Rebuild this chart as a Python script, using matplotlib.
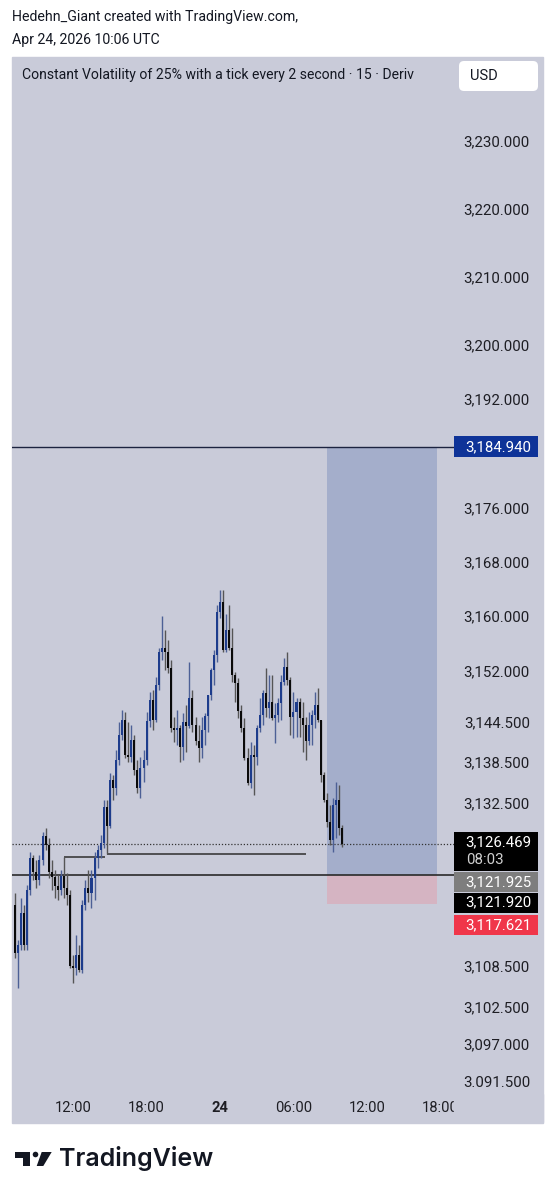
import matplotlib
matplotlib.use("Agg")
import matplotlib.pyplot as plt
from matplotlib.patches import Rectangle, FancyBboxPatch, Polygon, Circle
from matplotlib.transforms import blended_transform_factory
import numpy as np

plt.rcParams["font.family"] = ["Roboto", "DejaVu Sans"]

# 15 minute candles, 23 Apr 07:15 -> 24 Apr 10:00
opens = [3117.5, 3110.4, 3111.6, 3116.3, 3111.6, 3119.7, 3124.4, 3122.3, 3121.2, 3124.1,
         3127.6, 3126.3, 3122.3, 3121.6, 3120.3, 3119.7, 3121.7, 3120.0, 3118.9, 3108.5,
         3108.2, 3110.1, 3107.9, 3117.5, 3120.0, 3119.2, 3121.4, 3124.4, 3125.6, 3126.6,
         3131.9, 3129.1, 3135.9, 3134.7, 3138.8, 3142.5, 3144.7, 3139.6, 3139.3, 3141.8,
         3137.4, 3134.7, 3137.6, 3138.8, 3144.6, 3147.7, 3144.7, 3149.9, 3154.7, 3155.3,
         3154.7, 3152.4, 3143.6, 3143.2, 3143.5, 3140.7, 3144.4, 3143.8, 3148.0, 3144.0,
         3141.6, 3140.6, 3143.2, 3145.3, 3148.4, 3152.1, 3154.3, 3160.6, 3162.1, 3155.0,
         3158.0, 3155.3, 3151.3, 3150.2, 3146.0, 3143.5, 3139.1, 3135.4, 3139.6, 3139.3,
         3143.5, 3145.4, 3148.7, 3146.5, 3147.4, 3145.0, 3145.4, 3147.2, 3150.3, 3152.5,
         3150.6, 3145.2, 3145.9, 3147.4, 3145.0, 3144.0, 3141.6, 3144.0, 3145.4, 3146.9,
         3144.7, 3136.6, 3132.9, 3129.7, 3127.0, 3132.2, 3132.9, 3128.8]
highs = [3119.2, 3112.3, 3118.5, 3117.5, 3120.4, 3125.3, 3124.8, 3124.1, 3124.8, 3128.2,
         3128.8, 3127.3, 3124.1, 3122.6, 3121.9, 3122.6, 3124.6, 3122.2, 3119.7, 3110.1,
         3113.0, 3111.6, 3118.2, 3121.2, 3122.6, 3122.6, 3125.3, 3126.3, 3127.8, 3132.9,
         3132.9, 3136.9, 3136.6, 3140.3, 3144.4, 3146.2, 3145.9, 3144.4, 3144.0, 3142.5,
         3138.8, 3139.3, 3140.3, 3145.9, 3148.8, 3149.1, 3151.1, 3155.3, 3160.0, 3158.0,
         3156.5, 3153.6, 3145.2, 3146.2, 3144.0, 3145.7, 3146.9, 3153.3, 3149.1, 3145.2,
         3144.0, 3145.2, 3145.7, 3148.4, 3152.4, 3155.0, 3161.7, 3163.9, 3163.9, 3160.3,
         3161.7, 3158.3, 3151.8, 3150.9, 3146.9, 3145.0, 3140.6, 3141.5, 3141.0, 3144.0,
         3148.0, 3149.1, 3152.4, 3151.3, 3151.3, 3147.2, 3148.0, 3151.3, 3153.8, 3154.7,
         3151.0, 3148.8, 3148.0, 3148.0, 3147.4, 3145.2, 3145.9, 3146.2, 3148.8, 3149.4,
         3144.7, 3137.1, 3134.0, 3132.2, 3133.2, 3135.6, 3135.1, 3129.3]
lows = [3109.7, 3105.2, 3110.8, 3110.8, 3110.8, 3118.9, 3121.2, 3120.0, 3120.4, 3123.4,
        3125.6, 3121.4, 3119.7, 3118.5, 3118.2, 3118.9, 3118.5, 3117.5, 3108.2, 3106.0,
        3107.2, 3107.6, 3107.4, 3116.7, 3117.9, 3117.0, 3118.2, 3122.9, 3124.4, 3125.9,
        3125.0, 3128.8, 3132.9, 3133.7, 3138.1, 3141.8, 3139.1, 3138.5, 3138.5, 3136.6,
        3134.0, 3133.2, 3135.6, 3138.1, 3143.7, 3143.2, 3144.4, 3149.1, 3153.6, 3152.1,
        3151.6, 3142.9, 3141.5, 3141.0, 3138.5, 3138.8, 3140.0, 3143.5, 3142.9, 3141.0,
        3138.5, 3139.1, 3141.0, 3142.9, 3147.7, 3149.9, 3153.3, 3159.7, 3154.7, 3154.7,
        3155.0, 3150.3, 3147.4, 3145.0, 3142.9, 3138.8, 3135.1, 3134.7, 3133.7, 3138.1,
        3142.9, 3144.0, 3145.2, 3145.0, 3144.7, 3141.3, 3144.4, 3144.7, 3149.9, 3149.9,
        3142.5, 3142.1, 3142.2, 3142.2, 3140.0, 3138.8, 3141.0, 3141.0, 3143.5, 3144.4,
        3135.6, 3132.6, 3129.0, 3126.3, 3125.3, 3127.3, 3127.8, 3126.0]
closes = [3110.4, 3111.6, 3116.3, 3111.6, 3119.7, 3124.4, 3122.3, 3121.2, 3124.1, 3127.6,
          3126.3, 3122.3, 3121.6, 3120.3, 3119.7, 3121.7, 3120.0, 3118.9, 3108.5, 3108.2,
          3110.1, 3107.9, 3117.5, 3120.0, 3119.2, 3121.4, 3124.4, 3125.6, 3126.6, 3131.9,
          3129.1, 3135.9, 3134.7, 3138.8, 3142.5, 3144.7, 3139.6, 3139.3, 3141.8, 3137.4,
          3134.7, 3137.6, 3138.8, 3144.6, 3147.7, 3144.7, 3149.9, 3154.7, 3155.3, 3154.7,
          3152.4, 3143.6, 3143.2, 3143.5, 3140.7, 3144.4, 3143.8, 3148.0, 3144.0, 3141.6,
          3140.6, 3143.2, 3145.3, 3148.4, 3152.1, 3154.3, 3160.6, 3162.1, 3155.0, 3158.0,
          3155.3, 3151.3, 3150.2, 3146.0, 3143.5, 3139.1, 3135.4, 3139.6, 3139.3, 3143.5,
          3145.4, 3148.7, 3146.5, 3147.4, 3145.0, 3145.4, 3147.2, 3150.3, 3152.5, 3150.6,
          3145.2, 3145.9, 3147.4, 3145.0, 3144.0, 3141.6, 3144.0, 3145.4, 3146.9, 3144.7,
          3136.6, 3132.9, 3129.7, 3127.0, 3132.2, 3132.9, 3128.8, 3126.469]

price_ticks = [3230, 3220, 3210, 3200, 3192, 3176, 3168, 3160, 3152, 3144.5,
               3138.5, 3132.5, 3108.5, 3102.5, 3097, 3091.5]
price_tick_labels = ["3,230.000", "3,220.000", "3,210.000", "3,200.000", "3,192.000",
                     "3,176.000", "3,168.000", "3,160.000", "3,152.000", "3,144.500",
                     "3,138.500", "3,132.500", "3,108.500", "3,102.500", "3,097.000",
                     "3.091.500"]
time_ticks = [19, 43, 67, 91, 115, 139]  # candle index of each time label
time_tick_labels = ["12:00", "18:00", "24", "06:00", "12:00", "18:00"]

# long position tool and drawn levels
target_price = 3184.94
entry_price = 3121.925
stop_price = 3117.621
bid_price = 3121.920
last_price = 3126.469
position_start, position_end = 102, 138
level_a, level_a_span = 3124.6, (16, 29.5)
level_b, level_b_span = 3125.0, (30, 95)

BG = "#c9cbd9"
UP, UP_WICK = "#1d3c8c", "#4d6096"
DOWN, DOWN_WICK = "#0a0a0a", "#555555"
INK = "#131722"
W, H = 556, 1199


def fx(px):
    return px / W


def fy(py):
    return 1 - py / H


fig = plt.figure(figsize=(W / 100, H / 100), dpi=100)
fig.patch.set_facecolor("white")

# chart pane background
fig.add_artist(Rectangle((fx(12), fy(1123)), fx(543) - fx(12), fy(57) - fy(1123),
                         transform=fig.transFigure, color=BG, zorder=-5))

ax_top, ax_bottom, ax_left, ax_right = 57, 1092, 12, 455
ax = fig.add_axes([fx(ax_left), fy(ax_bottom), fx(ax_right) - fx(ax_left), fy(ax_top) - fy(ax_bottom)])
ax.set_facecolor("none")
for s in ax.spines.values():
    s.set_visible(False)
ymin, ymax = 3089.92, 3242.37
ax.set_xlim(-0.98, 143.8)
ax.set_ylim(ymin, ymax)
upp = (ymax - ymin) / (ax_bottom - ax_top)  # price units per pixel

# position boxes
ax.add_patch(Rectangle((position_start, entry_price), position_end - position_start,
                       target_price - entry_price, color="#a4aecb", lw=0, zorder=1))
ax.add_patch(Rectangle((position_start, stop_price), position_end - position_start,
                       entry_price - stop_price, color="#d5b4c2", lw=0, zorder=1))

# levels
ax.axhline(target_price, color="#1c2340", lw=1.0, zorder=2)
ax.axhline(entry_price, color="#2a2a2a", lw=1.2, zorder=2)
ax.axhline(last_price, color="#333333", lw=0.9, ls=(0, (1, 1.5)), zorder=2)
ax.hlines(level_a, *level_a_span, color="#2e2e2e", lw=1.1, zorder=2)
ax.hlines(level_b, *level_b_span, color="#2e2e2e", lw=1.1, zorder=2)

# candles
o = np.array(opens)
c = np.array(closes)
idx = np.arange(len(c))
up = c >= o
ax.vlines(idx, lows, highs, colors=np.where(up, UP_WICK, DOWN_WICK), lw=1.0, zorder=3)
body = np.maximum(np.abs(c - o), 0.3)
ax.bar(idx, body, bottom=np.minimum(o, c), width=0.66,
       color=np.where(up, UP, DOWN), lw=0, zorder=4)

# price axis
ax.yaxis.tick_right()
ax.set_yticks(price_ticks, price_tick_labels)
ax.tick_params(axis="y", length=0, pad=54, labelsize=10.8, labelcolor="#1e1e24")
for lab in ax.get_yticklabels():
    lab.set_horizontalalignment("right")

# time axis
ax.set_xticks(time_ticks, time_tick_labels)
ax.tick_params(axis="x", length=0, pad=6.5, labelsize=10.6, labelcolor="#1e1e24")
ax.get_xticklabels()[2].set_fontweight("bold")
# the time scale is cut off where the price scale starts
fig.add_artist(Rectangle((fx(454), fy(1122)), fx(543) - fx(454), fy(1094) - fy(1122),
                         transform=fig.transFigure, color=BG, zorder=2))

# price tags on the axis
trans = blended_transform_factory(ax.transAxes, ax.transData)
tag_x0 = (454 - ax_left) / (ax_right - ax_left)
tag_x1 = (538 - ax_left) / (ax_right - ax_left)
text_x = (531 - ax_left) / (ax_right - ax_left)


def tag(price, text, face, dy=0, up_px=10, down_px=10, fc_text="white"):
    center = price - dy * upp
    ax.add_patch(Rectangle((tag_x0, center - down_px * upp), tag_x1 - tag_x0,
                           (up_px + down_px) * upp, transform=trans, color=face,
                           lw=0, clip_on=False, zorder=6))
    ax.text(text_x, center, text, transform=trans, ha="right", va="center",
            color=fc_text, fontsize=10.8, clip_on=False, zorder=7)


tag(target_price, "3,184.940", "#0e3398", up_px=10.5, down_px=10.5)
ax.add_patch(Rectangle((tag_x0, last_price - 27 * upp), tag_x1 - tag_x0, 39 * upp,
                       transform=trans, color="black", lw=0, clip_on=False, zorder=6))
ax.text(text_x, last_price + 1.5 * upp, "3,126.469", transform=trans, ha="right",
        va="center", color="white", fontsize=10.8, clip_on=False, zorder=7)
ax.text((466 - ax_left) / (ax_right - ax_left), last_price - 16 * upp, "08:03",
        transform=trans, ha="left", va="center", color="#d0d0d0", fontsize=10.8,
        clip_on=False, zorder=7)
tag(entry_price, "3,121.925", "#7e7e7e", dy=7.5)
tag(bid_price, "3,121.920", "black", dy=28)
tag(stop_price, "3,117.621", "#f0364a", dy=21)

# header texts
fig.text(fx(12), fy(17), "Hedehn_Giant created with TradingView.com,", fontsize=10.2,
         color=INK, va="center")
fig.text(fx(12), fy(40), "Apr 24, 2026 10:06 UTC", fontsize=10.2, color=INK, va="center")
fig.text(fx(22), fy(75), "Constant Volatility of 25% with a tick every 2 second \u00b7 15 \u00b7 Deriv",
         fontsize=10.1, color=INK, va="center")

# USD box (inches)
fig.add_artist(FancyBboxPatch((459 / 100, (H - 91) / 100), 79 / 100, 30 / 100,
                              boxstyle="round,pad=0,rounding_size=0.05",
                              transform=fig.dpi_scale_trans, fc="white", ec="none"))
fig.text(fx(470), fy(76), "USD", fontsize=10.5, color=INK, va="center")

# TradingView logo
logo = dict(transform=fig.dpi_scale_trans, fc=INK, ec="none")
fig.add_artist(Rectangle((15 / 100, (H - 1158) / 100), 15 / 100, 6 / 100, **logo))
fig.add_artist(Rectangle((23 / 100, (H - 1166) / 100), 7 / 100, 14 / 100, **logo))
fig.add_artist(Circle((35.5 / 100, (H - 1154.5) / 100), 2.8 / 100, **logo))
fig.add_artist(Polygon([(41.7 / 100, (H - 1152) / 100), (51.7 / 100, (H - 1152) / 100),
                        (43.3 / 100, (H - 1166) / 100), (36.7 / 100, (H - 1166) / 100)], **logo))
fig.text(fx(59), fy(1166), "TradingView", fontsize=18, fontweight="semibold",
         family=["Inter", "DejaVu Sans"], color=INK, va="baseline")

fig.savefig("out.png", dpi=100)
